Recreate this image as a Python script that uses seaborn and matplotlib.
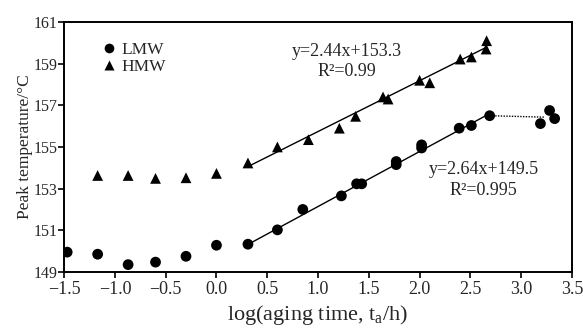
import numpy as np
import pandas as pd
import seaborn as sns
import matplotlib.pyplot as plt

# data
lmw_x = [-1.47, -1.17, -0.87, -0.60, -0.30, 0.00, 0.31, 0.60, 0.85, 1.23, 1.38, 1.43,
         1.77, 1.77, 2.02, 2.02, 2.39, 2.51, 2.69, 3.19, 3.28, 3.33]
lmw_y = [149.95, 149.85, 149.35, 149.47, 149.75, 150.28, 150.33, 151.02, 152.00, 152.65, 153.23, 153.23,
         154.15, 154.30, 154.95, 155.10, 155.90, 156.03, 156.50, 156.12, 156.75, 156.36]
hmw_x = [-1.17, -0.87, -0.60, -0.30, 0.00, 0.31, 0.60, 0.905, 1.21, 1.37, 1.64, 1.69,
         2.00, 2.10, 2.40, 2.51, 2.655, 2.66]
hmw_y = [153.63, 153.63, 153.49, 153.52, 153.73, 154.23, 155.00, 155.35, 155.90, 156.47, 157.40, 157.30,
         158.20, 158.08, 159.22, 159.32, 159.70, 160.10]

# linear fits given in the chart
lmw_fit = (2.64, 149.5)
hmw_fit = (2.44, 153.3)
lmw_fit_range = [0.31, 2.69]
hmw_fit_range = [0.31, 2.66]
lmw_tail_x = [2.69, 3.23]
lmw_tail_y = [156.50, 156.43]

df = pd.concat([
    pd.DataFrame({'x': lmw_x, 'y': lmw_y, 'sample': 'LMW'}),
    pd.DataFrame({'x': hmw_x, 'y': hmw_y, 'sample': 'HMW'}),
])

sns.set_style("ticks")
plt.rcParams['font.family'] = ['Liberation Serif', 'DejaVu Serif']
plt.rcParams['mathtext.fontset'] = 'custom'
plt.rcParams['mathtext.rm'] = 'Liberation Serif'
plt.rcParams['mathtext.it'] = 'Liberation Serif:italic'

fig = plt.figure(figsize=(5.83, 3.28), dpi=100)
ax = fig.add_axes([0.110, 0.171, 0.871, 0.762])

# fit lines
for (m, b), rng in [(lmw_fit, lmw_fit_range), (hmw_fit, hmw_fit_range)]:
    xs = np.array(rng)
    ax.plot(xs, m * xs + b, color='black', lw=1.0, zorder=1)
ax.plot(lmw_tail_x, lmw_tail_y, color='black', lw=1.0, ls=(0, (1, 1)), zorder=1)

sns.scatterplot(data=df, x='x', y='y', hue='sample', style='sample',
                palette={'LMW': 'black', 'HMW': 'black'},
                markers={'LMW': 'o', 'HMW': '^'}, s=60, edgecolor='none',
                ax=ax, zorder=2)

ax.set_xlim(-1.5, 3.5)
ax.set_ylim(149, 161)
ax.set_xticks(np.arange(-1.5, 3.51, 0.5))
ax.set_yticks(np.arange(149, 161.1, 2))
ax.tick_params(direction='out', length=4, width=1.2, color='black')
ax.tick_params(axis='x', labelsize=13, pad=2.5)
ax.tick_params(axis='y', labelsize=11.5, pad=1)
for sp in ax.spines.values():
    sp.set_visible(True)
    sp.set_linewidth(1.4)
    sp.set_color('black')

ax.set_xlabel('log(aging time, t$_\\mathrm{a}$/h)', fontsize=16, labelpad=4)
ax.set_ylabel('Peak temperature/°C', fontsize=12.5, labelpad=0)

ax.text(1.28, 159.58, 'y=2.44x+153.3', ha='center', va='center', fontsize=13)
ax.text(1.28, 158.62, 'R²=0.99', ha='center', va='center', fontsize=13)
ax.text(2.63, 153.92, 'y=2.64x+149.5', ha='center', va='center', fontsize=13)
ax.text(2.63, 152.92, 'R²=0.995', ha='center', va='center', fontsize=13)

leg = ax.legend(loc='upper left', bbox_to_anchor=(0.055, 0.948), frameon=False,
                fontsize=12.5, handletextpad=0.1, labelspacing=0.05, borderaxespad=0,
                handlelength=1.2, markerscale=0.9)

fig.savefig('out.png', dpi=100)
